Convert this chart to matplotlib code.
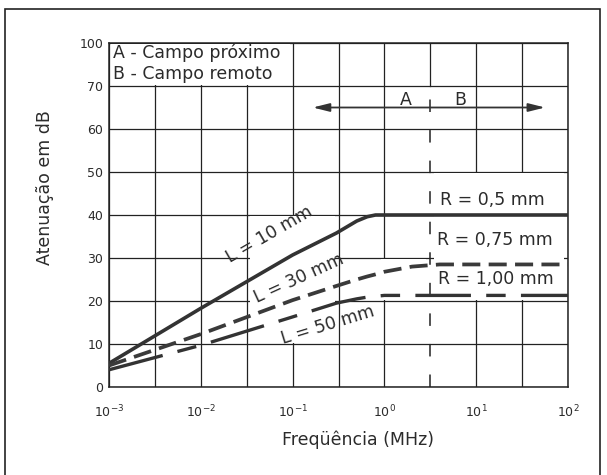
import matplotlib
matplotlib.use('Agg')
import matplotlib.pyplot as plt
from matplotlib.patches import Rectangle

plt.rcParams['font.family'] = ['DejaVu Sans', 'Noto Sans']
plt.rcParams['lines.scale_dashes'] = False

# valores (frequência em MHz, atenuação em dB)
freq = [0.001, 0.01, 0.1, 0.3, 0.5, 0.65, 0.8, 1.0, 2.0, 4.0, 10.0, 100.0]
att_L10 = [5.5, 18.3, 30.7, 35.8, 38.6, 39.6, 40.0, 40.0, 40.0, 40.0, 40.0, 40.0]
att_L30 = [5.0, 12.3, 20.2, 23.5, 25.0, 25.7, 26.2, 26.8, 28.0, 28.5, 28.5, 28.5]
att_L50 = [4.0, 9.7, 16.3, 19.5, 20.5, 20.9, 21.1, 21.3, 21.3, 21.3, 21.3, 21.3]

L_labels = ['L = 10 mm', 'L = 30 mm', 'L = 50 mm']
R_labels = ['R = 0,5 mm', 'R = 0,75 mm', 'R = 1,00 mm']

x_ticks = [1e-3, 1e-2, 1e-1, 1e0, 1e1, 1e2]
x_ticklabels = ['$10^{-3}$', '$10^{-2}$', '$10^{-1}$', '$10^{0}$', '$10^{1}$', '$10^{2}$']
y_ticks = [0, 10, 20, 30, 40, 50, 60, 70, 80]
y_ticklabels = ['0', '10', '20', '30', '40', '50', '60', '70', '100']

INK = '#2b2b2b'
FS = 12.5


def cell(c):
    # posição em "meias décadas" a partir de 10^-3 -> frequência
    return 10 ** (c / 2.0 - 3)


fig = plt.figure(figsize=(6.07, 4.75), dpi=100)
ax = fig.add_axes([109 / 607, 88 / 475, 459 / 607, 344 / 475])
ax.set_xscale('log')
ax.set_xlim(1e-3, 1e2)
ax.set_ylim(0, 80)
ax.set_axisbelow(True)

ax.set_xticks(x_ticks)
ax.set_xticklabels(x_ticklabels)
ax.set_xticks([cell(c) for c in (1, 3, 5, 9)], minor=True)
ax.set_xticklabels([], minor=True)
ax.set_yticks(y_ticks)
ax.set_yticklabels(y_ticklabels)
ax.tick_params(which='both', length=0, colors=INK)
ax.tick_params(axis='x', pad=12, labelsize=9)
ax.tick_params(axis='y', pad=4, labelsize=9)
ax.grid(which='both', color='#222222', lw=0.9)
for s in ax.spines.values():
    s.set_color('#222222')
    s.set_linewidth(1.1)

# linha vertical de separação A / B
ax.plot([cell(7), cell(7)], [70, 80], color='#222222', lw=0.9, zorder=0.6)
ax.plot([cell(7), cell(7)], [0, 70], color='#222222', lw=1.1, dashes=(9, 13), zorder=3)

# fundos brancos dos rótulos (cobrem parte da grade)
for (c0, c1, y0, y1) in [(0.05, 3.95, 70.3, 79.7),
                         (3.08, 4.92, 10.3, 39.7),
                         (7.08, 9.92, 20.3, 49.7),
                         (5.92, 6.9, 20.3, 29.7)]:
    ax.add_patch(Rectangle((cell(c0), y0), cell(c1) - cell(c0), y1 - y0,
                           facecolor='white', edgecolor='none', zorder=1))

ax.plot(freq, att_L10, color='#333333', lw=2.6, solid_capstyle='butt', zorder=4)
ax.plot(freq, att_L30, color='#3a3a3a', lw=2.7, dashes=(13, 6), zorder=4)
ax.plot(freq, att_L50, color='#333333', lw=2.4, dashes=(40, 11, 14, 11), zorder=4)

# rótulos das curvas
for lab, (c, y, rot) in zip(L_labels, [(3.5, 35.4, 30), (4.14, 25.2, 24.5), (4.76, 14.3, 17)]):
    ax.text(cell(c), y, lab, rotation=rot, rotation_mode='anchor', ha='center', va='center',
            fontsize=FS, color=INK, zorder=5)
for lab, (c, y) in zip(R_labels, [(7.21, 43.6), (7.14, 34.3), (7.16, 25.0)]):
    ax.text(cell(c), y, lab, ha='left', va='center', fontsize=FS, color=INK, zorder=5)

# legenda A / B
ax.text(0.009, 0.955, 'A - Campo próximo', transform=ax.transAxes, ha='left', va='baseline',
        fontsize=FS, color=INK)
ax.text(0.009, 0.894, 'B - Campo remoto', transform=ax.transAxes, ha='left', va='baseline',
        fontsize=FS, color=INK)

# seta de campo próximo / remoto
ax.annotate('', xy=(cell(9.5), 65), xytext=(cell(4.44), 65),
            arrowprops=dict(arrowstyle='<|-|>,head_length=1.0,head_width=0.25',
                            color='#333333', lw=1.3, shrinkA=0, shrinkB=0), zorder=4)
ax.text(cell(6.47), 65.6, 'A', ha='center', va='baseline', fontsize=FS, color=INK)
ax.text(cell(7.65), 65.6, 'B', ha='center', va='baseline', fontsize=FS, color=INK)

fig.text(358 / 607, 1 - 440 / 475, 'Freqüência (MHz)', ha='center', va='center',
         fontsize=FS, color=INK)
fig.text(45 / 607, 1 - 188 / 475, 'Atenuação em dB', ha='center', va='center',
         rotation=90, fontsize=FS, color=INK)

# moldura externa
fig.add_artist(Rectangle((5 / 607, -0.05), 595 / 607, 1.05 - 9 / 475, transform=fig.transFigure,
                         fill=False, edgecolor='#222222', lw=1.2))

fig.savefig('out.png', dpi=100)
